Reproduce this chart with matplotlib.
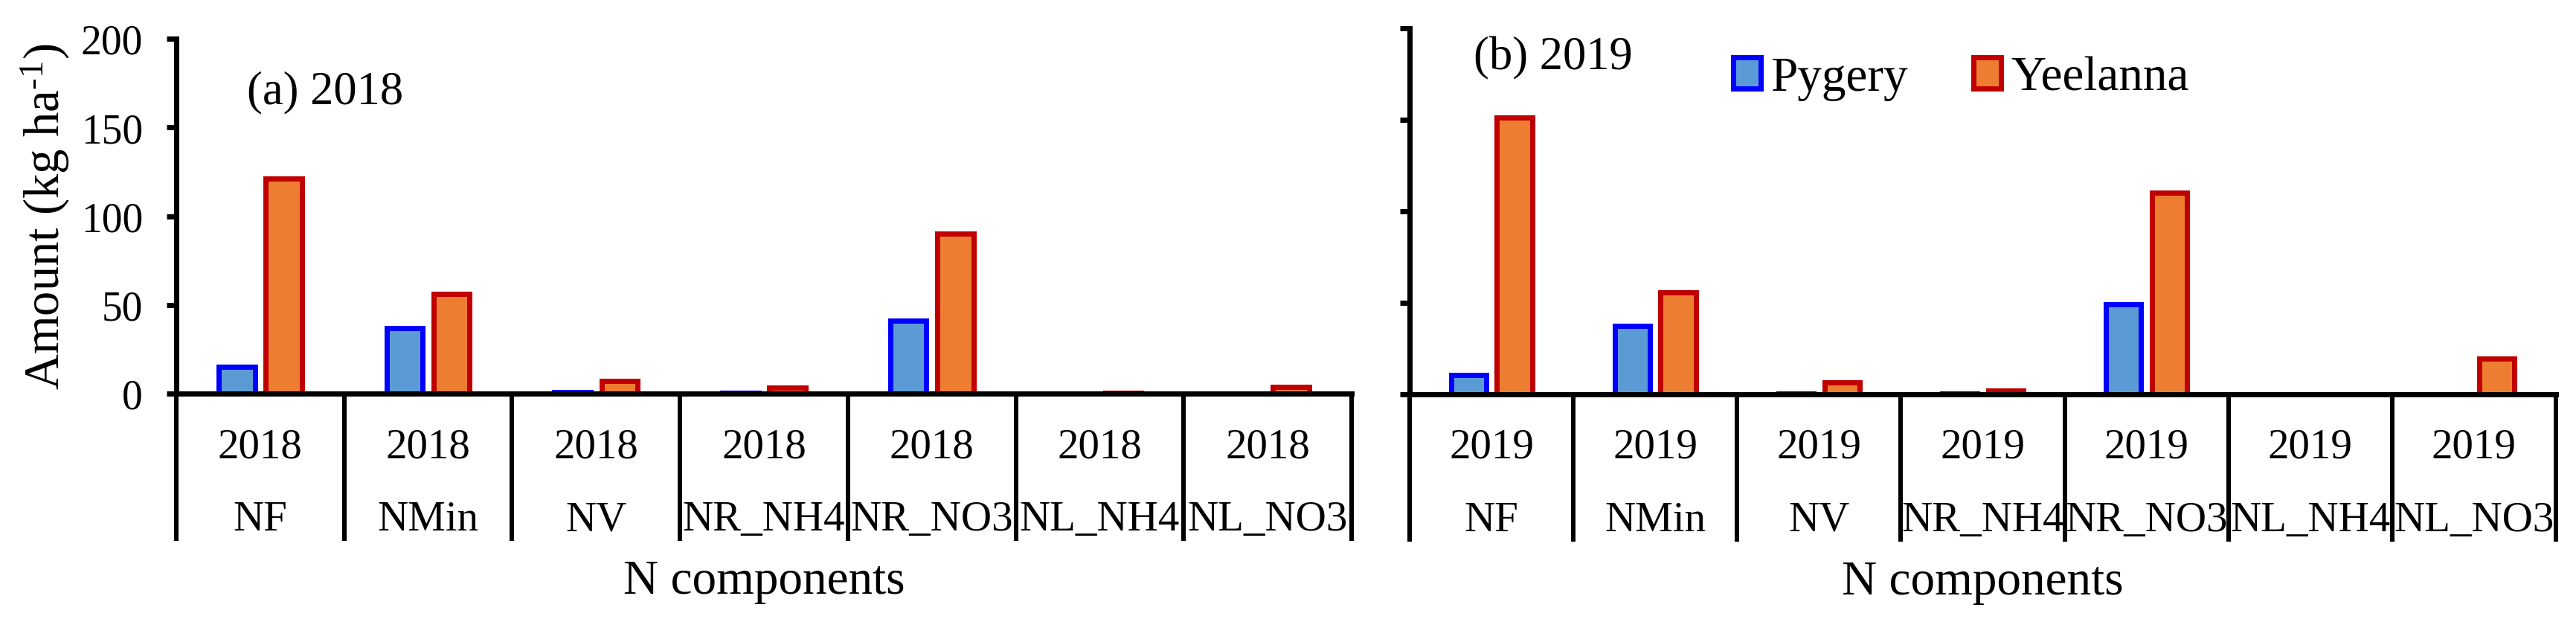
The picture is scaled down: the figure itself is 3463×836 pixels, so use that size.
import matplotlib
matplotlib.use("Agg")
import matplotlib.pyplot as plt
from matplotlib.lines import Line2D
import numpy as np

plt.rcParams['font.family'] = ['Liberation Serif', 'DejaVu Serif']
plt.rcParams['mathtext.fontset'] = 'custom'
plt.rcParams['mathtext.rm'] = 'Liberation Serif'
plt.rcParams['mathtext.it'] = 'Liberation Serif:italic'

components = ["NF", "NMin", "NV", "NR_NH4", "NR_NO3", "NL_NH4", "NL_NO3"]
years = ["2018", "2019"]
pygery_2018 = [15, 37, 1.0, 0.5, 41, 0, 0]
yeelanna_2018 = [121, 56, 7, 3.3, 90, 0.3, 3.8]
pygery_2019 = [10.6, 37.5, 0.4, 0.3, 49, 0, 0]
yeelanna_2019 = [151, 55.6, 6.5, 2, 110, 0, 19.5]
panel_titles = ["(a) 2018", "(b) 2019"]
series_names = ["Pygery", "Yeelanna"]
yticks = [0, 50, 100, 150, 200]

W, H = 3463, 837
DPI = 200
fig = plt.figure(figsize=(W / DPI, H / DPI), dpi=DPI)

def px2pt(p):
    return p * 72.0 / DPI

ax1 = fig.add_axes([237 / W, 1 - 530 / H, (1817 - 237) / W, (530 - 53) / H])
ax2 = fig.add_axes([1895 / W, 1 - 531 / H, (3436 - 1895) / W, (531 - 38.6) / H])

py_fill, py_edge = "#5B9BD5", "#0000FF"
ye_fill, ye_edge = "#ED7D31", "#C00000"
bar_w = 0.215
off = 0.14
lw_bar = px2pt(7)
lw_spine = px2pt(7)

data = [(pygery_2018, yeelanna_2018), (pygery_2019, yeelanna_2019)]
x = np.arange(len(components))

for k, (ax, (pv, yv)) in enumerate(zip([ax1, ax2], data)):
    ax.bar(x - off, pv, width=bar_w, color=py_fill, edgecolor=py_edge,
           linewidth=lw_bar, label=series_names[0], zorder=2)
    ax.bar(x + off, yv, width=bar_w, color=ye_fill, edgecolor=ye_edge,
           linewidth=lw_bar, label=series_names[1], zorder=2)
    ax.set_xlim(-0.5, len(components) - 0.5)
    ax.set_ylim(0, 200)
    ax.set_yticks(yticks)
    ax.spines['top'].set_visible(False)
    ax.spines['right'].set_visible(False)
    for s in ['left', 'bottom']:
        ax.spines[s].set_linewidth(lw_spine)
        ax.spines[s].set_zorder(3)
    ax.set_xticks([])
    ax.tick_params(axis='y', direction='out', length=px2pt(13), width=lw_spine,
                   labelsize=20, pad=px2pt(32))
    if k == 1:
        ax.tick_params(axis='y', labelleft=False)

    h_px = ax.get_position().height * H
    sep_frac = -198.0 / h_px
    for b in np.arange(-0.5, len(components), 1.0):
        ln = Line2D([b, b], [0, sep_frac], transform=ax.get_xaxis_transform(),
                    color='black', linewidth=px2pt(6), clip_on=False,
                    solid_capstyle='butt')
        ax.add_line(ln)

    for i, c in enumerate(components):
        ax.annotate(years[k], xy=(i, 0), xycoords=('data', 'axes fraction'),
                    xytext=(0, -px2pt(85)), textcoords='offset points',
                    ha='center', va='baseline', fontsize=20.5,
                    annotation_clip=False)
        ax.annotate(c, xy=(i, 0), xycoords=('data', 'axes fraction'),
                    xytext=(0, -px2pt(183)), textcoords='offset points',
                    ha='center', va='baseline', fontsize=20.5,
                    annotation_clip=False)
    ax.annotate("N components", xy=(0.5, 0), xycoords='axes fraction',
                xytext=(0, -px2pt(268)), textcoords='offset points',
                ha='center', va='baseline', fontsize=23.5,
                annotation_clip=False)

fig.text(332 / W, 1 - 139 / H, panel_titles[0], ha='left', va='baseline', fontsize=22.5)
fig.text(1981 / W, 1 - 93 / H, panel_titles[1], ha='left', va='baseline', fontsize=22.5)

fig.text(61 / W, 1 - 291 / H, "Amount (kg ha$^{\u2010\\mathrm{1}}$)", rotation=90,
         ha='center', va='center', fontsize=24)

ax2.legend(loc='center left', bbox_to_anchor=(2330 / W, 1 - 106 / H),
           bbox_transform=fig.transFigure, ncol=2, frameon=False,
           fontsize=23.5, handlelength=0.57, handleheight=0.62,
           handletextpad=0.2, columnspacing=1.35, borderpad=0, borderaxespad=0)

fig.savefig("out.png", dpi=DPI)
